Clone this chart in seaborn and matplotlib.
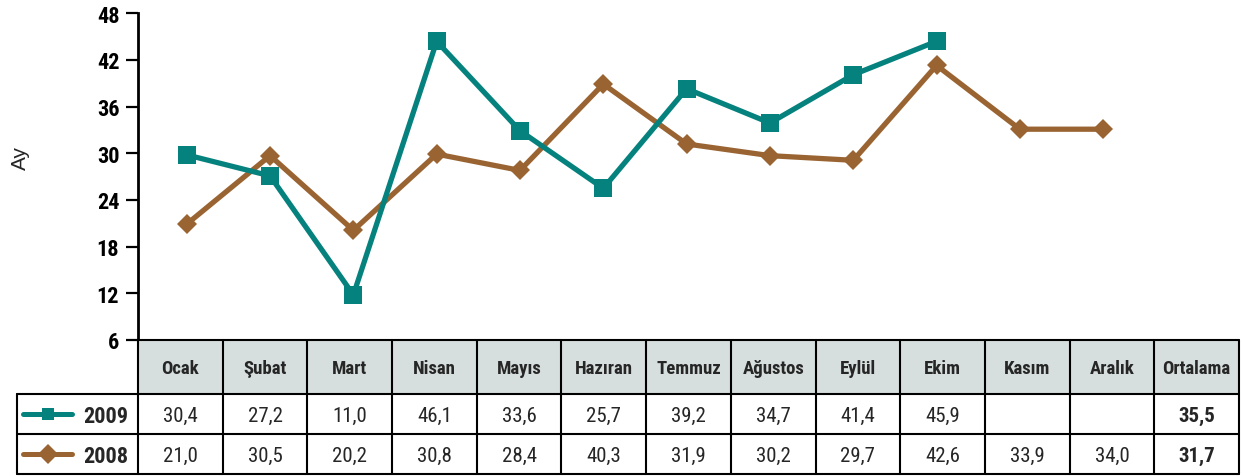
import matplotlib
matplotlib.use("Agg")
import matplotlib.pyplot as plt
import seaborn as sns
import pandas as pd
from matplotlib.font_manager import fontManager
from matplotlib.patches import Rectangle

sns.set_style("white")


def _has_bold(name):
    ws = [f.weight for f in fontManager.ttflist if f.name == name]
    return any((isinstance(w, int) and w >= 600) or w in ("bold", "semibold") for w in ws)


COND = "DejaVu Sans"
for cand in ["Roboto Condensed", "Archivo Narrow", "PT Sans Narrow",
             "IBM Plex Sans Condensed", "Liberation Sans Narrow"]:
    if _has_bold(cand):
        COND = cand
        break
plt.rcParams["font.family"] = [COND, "DejaVu Sans"]

# ---------------- data ----------------
months = ["Ocak", "Şubat", "Mart", "Nisan", "Mayıs", "Hazıran", "Temmuz",
          "Ağustos", "Eylül", "Ekim", "Kasım", "Aralık"]
avg_header = "Ortalama"
years = ["2009", "2008"]
table_2009 = ["30,4", "27,2", "11,0", "46,1", "33,6", "25,7", "39,2", "34,7",
              "41,4", "45,9", "", ""]
table_2008 = ["21,0", "30,5", "20,2", "30,8", "28,4", "40,3", "31,9", "30,2",
              "29,7", "42,6", "33,9", "34,0"]
avg_2009 = "35,5"
avg_2008 = "31,7"
# values as drawn on the line chart
plot_2009 = [29.8, 27.1, 11.8, 44.4, 32.9, 25.5, 38.3, 33.9, 40.1, 44.4]
plot_2008 = [20.9, 29.7, 20.1, 29.9, 27.8, 38.9, 31.2, 29.7, 29.1, 41.3, 33.1, 33.1]
yticks = [6, 12, 18, 24, 30, 36, 42, 48]
ylabel = "Ay"

TEAL = "#06827e"
BROWN = "#9a6432"
HEADER_BG = "#d6dfde"

W, H = 1242, 477
fig = plt.figure(figsize=(W / 100, H / 100), dpi=100)


def fr(x0, y0, x1, y1):
    return [x0 / W, 1 - y1 / H, (x1 - x0) / W, (y1 - y0) / H]


# ---------------- line chart ----------------
ax = fig.add_axes(fr(138, 14.3, 1239, 341))
df09 = pd.DataFrame({"idx": range(len(plot_2009)), "val": plot_2009})
df08 = pd.DataFrame({"idx": range(len(plot_2008)), "val": plot_2008})
sns.lineplot(data=df08, x="idx", y="val", ax=ax, color=BROWN, linewidth=3.8,
             marker="D", markersize=10.5, markeredgewidth=0, zorder=3)
sns.lineplot(data=df09, x="idx", y="val", ax=ax, color=TEAL, linewidth=3.8,
             marker="s", markersize=13.5, markeredgewidth=0, zorder=4)
ax.set_xlim(-0.585, 12.63)
ax.set_ylim(6, 48)
ax.set_yticks(yticks)
ax.set_yticklabels([str(t) for t in yticks], fontsize=16, fontweight="bold")
ax.set_xticks([])
ax.set_xlabel("")
ax.set_ylabel("")
for s in ["top", "right", "bottom"]:
    ax.spines[s].set_visible(False)
ax.spines["left"].set_linewidth(2.0)
ax.spines["left"].set_color("black")
ax.tick_params(axis="y", direction="out", length=8.5, width=1.6, pad=5,
               color="black", left=True, labelcolor="black")
fig.text(20 / W, 1 - 158 / H, ylabel, rotation=90, ha="center", va="center",
         fontsize=15, family=["Liberation Sans", "DejaVu Sans"])

# ---------------- data table ----------------
tx = fig.add_axes(fr(0, 330, W, H))
tx.set_xlim(0, W)
tx.set_ylim(H, 330)
tx.axis("off")

x0, x1 = 138, 1239
ncol = len(months) + 1
cw = (x1 - x0) / ncol
rows = [341, 395, 435, 475]
lw = 1.5

tx.add_patch(Rectangle((x0, rows[0]), x1 - x0, rows[1] - rows[0],
                       facecolor=HEADER_BG, edgecolor="none", zorder=1))
tx.plot([x0, x1], [rows[0], rows[0]], color="black", lw=lw, zorder=3)
for r in rows[1:]:
    tx.plot([17, x1], [r, r], color="black", lw=lw, zorder=3)
tx.plot([17, 17], [rows[1], rows[3]], color="black", lw=lw, zorder=3)
for k in range(ncol + 1):
    xx = x0 + k * cw
    tx.plot([xx, xx], [rows[0], rows[3]], color="black", lw=lw, zorder=3)

headers = months + [avg_header]
for k, h in enumerate(headers):
    tx.text(x0 + (k + 0.5) * cw, (rows[0] + rows[1]) / 2 + 1, h, ha="center",
            va="center", fontsize=13.5, fontweight="bold", zorder=4)

for row_i, (vals, avg) in enumerate([(table_2009, avg_2009), (table_2008, avg_2008)]):
    yc = (rows[row_i + 1] + rows[row_i + 2]) / 2 + 1
    for k, v in enumerate(vals):
        tx.text(x0 + (k + 0.5) * cw, yc, v, ha="center", va="center",
                fontsize=15, zorder=4)
    tx.text(x0 + (ncol - 0.5) * cw, yc, avg, ha="center", va="center",
            fontsize=15, fontweight="bold", zorder=4)

# legend keys inside the table
legend_specs = [(years[0], TEAL, "s", 9.0), (years[1], BROWN, "D", 10.0)]
for row_i, (yr, col, mk, ms) in enumerate(legend_specs):
    yc = (rows[row_i + 1] + rows[row_i + 2]) / 2
    tx.plot([23, 72], [yc, yc], color=col, lw=3.6, solid_capstyle="round", zorder=4)
    tx.plot([47.5], [yc], marker=mk, markersize=ms, color=col, markeredgewidth=0, zorder=5)
    tx.text(128, yc + 2, yr, ha="right", va="center", fontsize=16,
            fontweight="bold", zorder=4)

fig.savefig("out.png", dpi=100)
